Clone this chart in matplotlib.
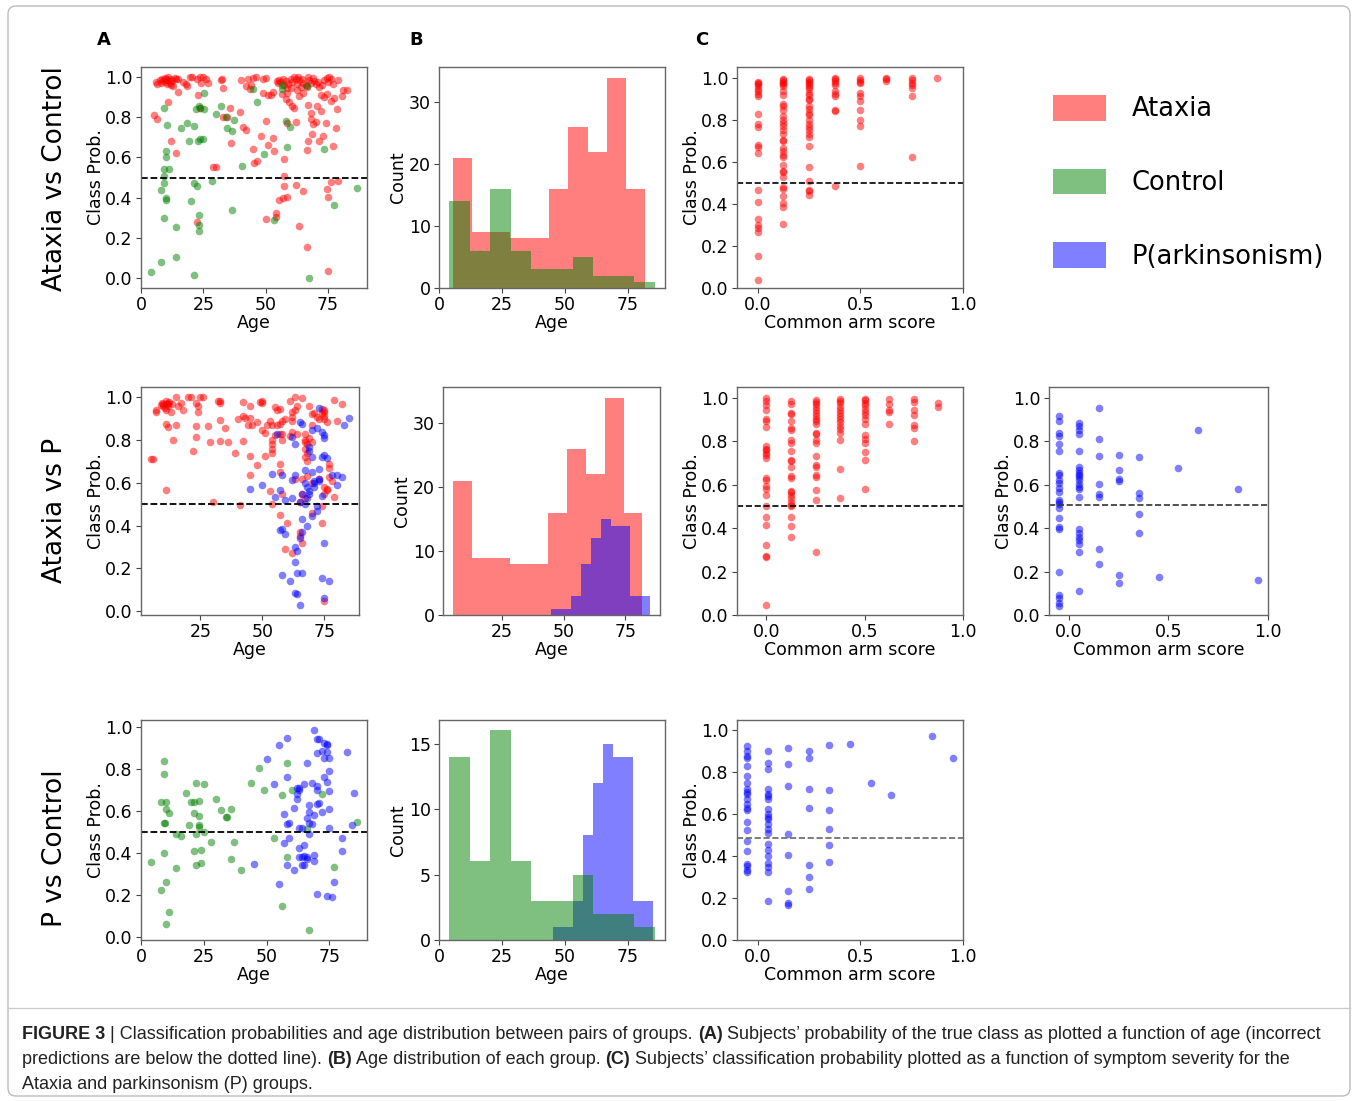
import matplotlib
matplotlib.use('Agg')
import matplotlib.pyplot as plt
import numpy as np
from matplotlib.patches import Patch, FancyBboxPatch
from matplotlib.ticker import MultipleLocator
from matplotlib import font_manager

W, H = 1358, 1101

#%% data: (age, class prob) per group and row
a1_ataxia = [(6,0.975),(6.5,0.965),(7.5,0.985),(8,0.97),(8.5,0.99),(9,0.98),(9.5,0.995),(10,0.975),(10,0.99),(10.5,0.965),
    (11,0.985),(11,1.0),(11.5,0.97),(12,0.99),(12,0.96),(12.5,0.98),(13,0.955),(13.5,0.995),(14,0.99),(15,0.99),(17,0.975),
    (18,0.965),(19.5,1.0),(20.5,1.0),(22.5,0.99),(23.5,1.0),(24,0.97),(25,1.0),(26,0.99),(27,0.97),(32,0.985),(32.5,0.99),
    (33,0.945),(40,0.985),(42,0.955),(43,0.99),(45,0.995),(44,0.96),(46,1.0),(49,0.99),(50,0.995),(49,0.92),(51,0.91),
    (53,0.925),(54.5,0.98),(55,0.97),(55.5,0.985),(56,0.975),(57,0.99),(57.5,0.96),(58,0.98),(58.5,0.945),(59,0.965),
    (60,0.99),(60.5,0.975),(61.5,1.0),(62,0.99),(62.5,0.965),(63,1.0),(63.5,0.985),(64.5,0.99),(65,0.97),(66,0.96),
    (67,1.0),(67.5,0.985),(68,0.97),(69,0.995),(69.5,0.98),(70,0.965),(71,0.975),(72.5,0.96),(73.5,0.985),(74.5,0.995),
    (75,0.975),(75.5,1.0),(76,0.99),(77,0.965),(79,0.985),(81,0.935),(66.5,0.95),(64,0.95),(62.5,0.935),(58.5,0.92),
    (56.5,0.915),(71.5,0.95),
    (5,0.81),(6.5,0.79),(11,0.875),(15,0.925),(12,0.68),(14,0.62),(18.5,0.955),(23,0.91),(23.5,0.845),(30,0.55),(29,0.55),
    (33,0.80),(34.5,0.80),(35.5,0.845),(39.5,0.825),(36,0.67),(41,0.75),(42,0.735),(22.5,0.28),(45,0.64),(45.5,0.57),
    (46.5,0.58),(48,0.705),(50,0.78),(51,0.66),(53,0.695),(53.5,0.63),(50,0.295),(54,0.325),(54,0.305),(55.5,0.39),
    (57,0.40),(57.5,0.59),(57.5,0.505),(57.5,0.46),(58.5,0.405),(58,0.89),(59.5,0.875),(58.5,0.77),(60.5,0.855),
    (61.5,0.845),(62,0.775),(62,0.465),(63.5,0.26),(65,0.435),(66.5,0.155),(66.5,0.635),(67,0.68),(67,0.86),(68,0.82),
    (68,0.79),(68.5,0.715),(69,0.765),(70,0.775),(70.5,0.855),(71.5,0.68),(72,0.83),(73,0.705),(74,0.77),(74.5,0.445),
    (75,0.405),(75,0.035),(76,0.48),(77,0.655),(78,0.745),(78.5,0.84),(79,0.485),(80.5,0.905),(82.5,0.935),(72,0.91),
    (73.5,0.9),(74.5,0.915),(76,0.88),(77.5,0.895),(63.5,0.905),(65,0.92),(60,0.945),(52,0.91),(43.5,0.94)]
a1_control = [(4.1,0.03),(8,0.08),(9.3,0.845),(10.5,0.76),(10.1,0.63),(10.1,0.60),(9.1,0.54),(11.2,0.54),(9.3,0.505),
    (9.3,0.475),(8,0.44),(10.1,0.40),(10.1,0.39),(9.3,0.30),(14.2,0.255),(14.2,0.105),(16.2,0.745),(18.4,0.77),(19.2,0.68),
    (20.2,0.385),(21.4,0.015),(21.4,0.755),(21.4,0.475),(22.4,0.46),(22.2,0.84),(23.1,0.855),(23.8,0.845),(22.7,0.68),
    (23.8,0.69),(24.7,0.69),(25.4,0.92),(25.1,0.84),(23.2,0.315),(23.2,0.265),(23.2,0.235),(28.4,0.485),(30.2,0.815),
    (32.2,0.855),(33.9,0.80),(34.4,0.745),(36.4,0.73),(36.3,0.34),(37.4,0.785),(40.5,0.555),(44.7,0.94),(46.5,0.875),
    (49.4,0.615),(53.3,0.29),(56.5,0.96),(56.5,0.94),(58.2,0.78),(58.5,0.65),(59.9,0.75),(66.5,0.955),(67.4,0.0),
    (73.2,0.64),(77.4,0.365),(86.5,0.45)]

a2_ataxia = [(5,0.71),(6,0.71),(7,0.94),(7,0.93),(9,0.965),(9.5,0.975),(10,0.97),(10,0.96),(10.5,0.95),(11,0.985),(11,0.94),
    (11.5,0.97),(12,0.975),(12,0.96),(12.5,0.98),(13,0.93),(13.5,0.97),(11,0.875),(12,0.86),(11,0.565),(14,0.80),(15,0.87),
    (15,1.0),(16,0.96),(17,0.975),(18,0.94),(20,1.0),(21,1.0),(22,0.75),(23,0.815),(23,0.865),(23,0.975),(24,0.93),
    (24,0.96),(25,1.0),(26,1.0),(28,0.865),(29,0.79),(30,0.51),(32,0.985),(33,0.985),(33,0.975),(33,0.895),(33,0.795),
    (35,0.855),(36,0.79),(39,0.74),(40,0.90),(41,0.495),(42,0.795),(42,0.915),(42,0.98),(43,0.905),(44,0.87),(45,0.905),
    (45,0.96),(45,0.725),(45,0.635),(46,0.87),(48,0.685),(48,0.885),(49,0.98),(50,0.975),(50,0.985),(50,0.845),(51,0.835),
    (51,0.725),(52,0.87),(53,0.56),(53,0.89),(54,0.87),(54,0.80),(54,0.78),(54,0.76),(54,0.74),(54,0.50),(55,0.955),
    (55,0.825),(56,0.94),(56,0.87),(57,0.945),(57,0.875),(57,0.69),(57,0.65),(57,0.45),(57,0.83),(58,0.89),(58,0.80),
    (58,0.55),(58,0.83),(59,0.29),(59,0.90),(60,0.41),(61,0.985),(61,0.82),(62,0.93),(62,0.91),(62,0.89),(62,0.84),
    (62,0.27),(63,1.0),(63,0.94),(63,0.62),(64,0.96),(64,0.83),(65,0.37),(65,0.35),(65,0.51),(66,0.995),(66,0.32),
    (66,0.55),(66,0.62),(67,0.83),(67,0.80),(67,0.79),(67,0.76),(67,0.72),(67,0.53),(68,0.78),(68,0.74),(68,0.70),
    (68,0.63),(69,0.96),(69,0.81),(70,0.92),(70,0.87),(70,0.79),(70,0.60),(70,0.46),(71,0.925),(72,0.91),(73,0.90),
    (73,0.62),(74,0.925),(74,0.945),(74,0.49),(74,0.41),(75,0.94),(75,0.93),(75,0.915),(75,0.90),(75,0.58),(75,0.045),
    (76,0.885),(76,0.565),(77,0.69),(77,0.67),(77,0.625),(78,0.61),(79,0.535),(79,0.99),(80,0.89),(82,0.97),(75,0.55),
    (76,0.57)]
a2_park = [(45,0.57),(50,0.59),(54,0.64),(55,0.535),(56,0.83),(57,0.565),(57,0.38),(58,0.635),(58,0.17),(58,0.385),
    (59,0.36),(59,0.52),(61,0.14),(62,0.615),(62,0.53),(62,0.815),(63,0.78),(63,0.30),(63,0.23),(63,0.085),(63,0.635),
    (64,0.08),(64,0.18),(64,0.28),(65,0.885),(65,0.51),(65,0.34),(65,0.03),(66,0.875),(66,0.18),(66,0.43),(66,0.37),
    (66,0.55),(67,0.66),(67,0.60),(67,0.50),(68,0.40),(68,0.53),(68,0.58),(69,0.75),(69,0.56),(69,0.55),(70,0.72),
    (70,0.65),(70,0.445),(70,0.845),(71,0.61),(71,0.58),(71,0.60),(72,0.855),(72,0.47),(72,0.49),(73,0.665),(73,0.61),
    (73,0.62),(73,0.95),(74,0.84),(74,0.72),(74,0.54),(74,0.155),(75,0.825),(75,0.81),(75,0.73),(75,0.32),(75,0.06),
    (76,0.715),(77,0.14),(78,0.635),(80,0.59),(80,0.635),(82,0.625),(83,0.87),(85,0.905),(69,0.77)]

a3_control = [(4,0.36),(8,0.225),(8,0.645),(9,0.84),(9,0.775),(9,0.545),(9.3,0.545),(9,0.40),(10,0.645),(10,0.61),
    (10,0.265),(10,0.065),(11,0.59),(11,0.12),(14,0.49),(14,0.33),(16,0.48),(18,0.685),(19,0.535),(20,0.645),(21,0.645),
    (21,0.59),(21,0.41),(22,0.735),(22,0.49),(22,0.345),(23,0.65),(23,0.575),(23,0.535),(23,0.525),(24,0.415),(24,0.355),
    (25,0.73),(25,0.50),(28,0.455),(30,0.655),(32,0.605),(34,0.57),(34.3,0.57),(36,0.61),(36,0.37),(37,0.455),(40,0.32),
    (44,0.735),(47,0.805),(49,0.70),(53,0.47),(56,0.675),(56,0.15),(58,0.83),(58,0.38),(60,0.70),(66,0.515),(67,0.035),
    (72,0.68),(77,0.335),(86,0.55)]
a3_park = [(45,0.35),(50,0.845),(53,0.73),(55,0.915),(55,0.255),(57,0.585),(57,0.45),(58,0.945),(58,0.76),(58,0.54),
    (58,0.345),(59,0.545),(59,0.47),(61,0.615),(61,0.32),(62,0.71),(62,0.68),(62,0.655),(63,0.70),(63,0.52),(63,0.425),
    (63,0.38),(64,0.52),(64,0.38),(64,0.345),(65,0.73),(65,0.44),(65,0.385),(65,0.345),(66,0.83),(66,0.565),(66,0.38),
    (66,0.37),(67,0.63),(67,0.595),(67,0.49),(67,0.545),(68,0.735),(68,0.54),(69,0.985),(69,0.58),(69,0.39),(69,0.365),
    (70,0.875),(70,0.94),(70,0.72),(70,0.70),(70,0.635),(70,0.205),(71,0.94),(71,0.64),(72,0.885),(72,0.595),(73,0.925),
    (73,0.85),(73,0.76),(74,0.915),(74,0.92),(74,0.88),(74,0.74),(74,0.195),(75,0.85),(75,0.79),(75,0.695),(75,0.61),
    (75,0.52),(76,0.19),(77,0.265),(80,0.47),(80,0.41),(82,0.88),(84,0.535),(85,0.685),(63,0.71)]

#%% data: age histograms (bin range and counts)
ataxia_bin_range = (5.3, 81.9)
ataxia_counts = [21, 9, 9, 8, 8, 16, 26, 22, 34, 16]
control_bin_range = (4.0, 85.6)
control_counts = [14, 6, 16, 6, 3, 3, 5, 2, 2, 1]
park_bin_range = (45.0, 85.0)
park_counts = [1, 1, 3, 8, 12, 15, 14, 14, 3, 3]

#%% data: common arm score vs class prob
ataxia_scores = [0, 0.125, 0.25, 0.375, 0.5, 0.625, 0.75, 0.875]
c1_probs = [
    [0.98,0.973,0.968,0.96,0.944,0.936,0.92,0.912,0.825,0.78,0.764,0.68,0.67,0.642,0.467,0.41,0.326,0.30,0.283,0.268,0.153,0.04],
    [0.995,0.99,0.98,0.973,0.968,0.96,0.936,0.915,0.876,0.865,0.844,0.817,0.796,0.785,0.77,0.753,0.734,0.705,0.697,0.666,
     0.65,0.634,0.623,0.586,0.554,0.55,0.527,0.482,0.47,0.438,0.403,0.387,0.304],
    [0.995,0.987,0.98,0.973,0.963,0.955,0.947,0.928,0.915,0.90,0.893,0.865,0.852,0.833,0.82,0.80,0.777,0.766,0.753,0.734,
     0.718,0.674,0.573,0.506,0.467,0.459,0.443],
    [1.0,0.992,0.984,0.976,0.963,0.936,0.924,0.912,0.846,0.84,0.486],
    [1.0,0.989,0.979,0.973,0.928,0.912,0.889,0.846,0.796,0.77,0.58],
    [1.0,0.992,0.984],
    [1.0,0.989,0.976,0.963,0.952,0.912,0.623],
    [1.0]]
c2_probs = [
    [0.998,0.986,0.966,0.944,0.904,0.894,0.866,0.778,0.765,0.758,0.747,0.735,0.724,0.631,0.620,0.596,0.582,0.554,0.503,
     0.451,0.415,0.323,0.273,0.269,0.045],
    [0.986,0.971,0.932,0.924,0.894,0.863,0.852,0.806,0.793,0.755,0.716,0.708,0.682,0.642,0.631,0.569,0.565,0.554,0.539,
     0.519,0.508,0.50,0.451,0.41,0.361],
    [0.991,0.981,0.971,0.96,0.944,0.929,0.917,0.904,0.894,0.878,0.84,0.832,0.804,0.793,0.731,0.693,0.682,0.647,0.636,
     0.577,0.531,0.292],
    [0.997,0.986,0.975,0.96,0.944,0.932,0.917,0.904,0.889,0.870,0.855,0.840,0.806,0.673,0.539],
    [0.997,0.989,0.978,0.966,0.947,0.935,0.92,0.904,0.878,0.827,0.812,0.79,0.75,0.713,0.582],
    [0.997,0.971,0.944,0.937,0.881],
    [0.997,0.981,0.944,0.92,0.873,0.863,0.801],
    [0.978,0.96]]
park_scores = [-0.05, 0.05, 0.15, 0.25, 0.35, 0.45, 0.55, 0.65, 0.85, 0.95]
d2_probs = [
    [0.915,0.892,0.838,0.826,0.787,0.757,0.653,0.646,0.622,0.607,0.584,0.565,0.53,0.522,0.512,0.495,0.448,0.407,0.394,
     0.199,0.091,0.076,0.055,0.04],
    [0.884,0.869,0.854,0.834,0.753,0.681,0.666,0.653,0.643,0.635,0.622,0.604,0.589,0.579,0.542,0.396,0.379,0.361,0.345,
     0.325,0.291,0.109],
    [0.954,0.812,0.73,0.604,0.558,0.545,0.304,0.237],
    [0.738,0.666,0.627,0.619,0.186,0.149],
    [0.727,0.561,0.538,0.465,0.376],
    [0.176], [0.676], [0.851], [0.581], [0.163]]
c3_probs = [
    [0.928,0.904,0.877,0.867,0.832,0.781,0.749,0.72,0.707,0.696,0.675,0.648,0.632,0.621,0.563,0.525,0.472,0.424,0.365,
     0.352,0.336,0.323],
    [0.904,0.845,0.816,0.723,0.696,0.685,0.672,0.624,0.60,0.589,0.576,0.552,0.528,0.509,0.456,0.429,0.40,0.368,0.349,
     0.323,0.184],
    [0.917,0.84,0.733,0.507,0.408,0.232,0.176,0.166],
    [0.901,0.869,0.72,0.629,0.36,0.299,0.245],
    [0.931,0.715,0.619,0.531,0.453,0.371],
    [0.936], [0.749], [0.693], [0.973], [0.869]]

row_titles = ['Ataxia vs Control', 'Ataxia vs P', 'P vs Control']
legend_labels = ['Ataxia', 'Control', 'P(arkinsonism)']

#%% figure
plt.rcParams['font.family'] = 'DejaVu Sans'
FS = 12.5
plt.rcParams['font.size'] = FS
fig = plt.figure(figsize=(W / 100, H / 100), dpi=100)

def box(l, t, r, b):
    return [l / W, 1 - b / H, (r - l) / W, (b - t) / H]

def style(ax):
    for s in ax.spines.values():
        s.set_color('#666666')
        s.set_linewidth(1.0)
    ax.tick_params(labelsize=FS, color='#444444', pad=2.5)

def prob_scatter(ax, groups):
    for pts, col in groups:
        arr = np.array(pts)
        ax.scatter(arr[:, 0], arr[:, 1], s=30, color=col, alpha=0.5, linewidths=0)
    ax.axhline(0.5, color='k', ls='--', lw=1.3)
    ax.xaxis.set_major_locator(MultipleLocator(25))
    ax.yaxis.set_major_locator(MultipleLocator(0.2))
    ax.yaxis.set_major_formatter('{x:.1f}')
    ax.set_xlabel('Age', labelpad=0)
    ax.set_ylabel('Class Prob.', labelpad=0)
    style(ax)

def age_hist(ax, groups, step):
    for (lo, hi), counts, col in groups:
        edges = np.linspace(lo, hi, len(counts) + 1)
        centers = (edges[:-1] + edges[1:]) / 2
        ax.hist(centers, bins=edges, weights=counts, color=col, alpha=0.5)
    ax.xaxis.set_major_locator(MultipleLocator(25))
    ax.yaxis.set_major_locator(MultipleLocator(step))
    ax.set_xlabel('Age', labelpad=0)
    ax.set_ylabel('Count', labelpad=1)
    style(ax)

def score_scatter(ax, scores, probs, col, thresh=0.5, lcol='k', xmin=-0.1):
    xs = np.concatenate([[s] * len(p) for s, p in zip(scores, probs)])
    ys = np.concatenate(probs)
    ax.scatter(xs, ys, s=30, color=col, alpha=0.5, linewidths=0)
    ax.axhline(thresh, color=lcol, ls='--', lw=1.2)
    ax.set_xlim(xmin, 1.0)
    ax.set_ylim(0, 1.05)
    ax.xaxis.set_major_locator(MultipleLocator(0.5))
    ax.yaxis.set_major_locator(MultipleLocator(0.2))
    ax.xaxis.set_major_formatter('{x:.1f}')
    ax.yaxis.set_major_formatter('{x:.1f}')
    ax.set_xlabel('Common arm score', labelpad=0)
    ax.set_ylabel('Class Prob.', labelpad=0)
    style(ax)

# row 1: Ataxia vs Control
ax = fig.add_axes(box(141, 67, 367, 288))
prob_scatter(ax, [(a1_ataxia, 'red'), (a1_control, 'green')])
ax = fig.add_axes(box(439, 67, 665, 288))
age_hist(ax, [(ataxia_bin_range, ataxia_counts, 'red'), (control_bin_range, control_counts, 'green')], 10)
ax = fig.add_axes(box(737, 67, 963, 288))
score_scatter(ax, ataxia_scores, c1_probs, 'red')

# row 2: Ataxia vs P
ax = fig.add_axes(box(141, 387, 359, 615))
prob_scatter(ax, [(a2_ataxia, 'red'), (a2_park, 'blue')])
ax = fig.add_axes(box(443, 387, 660, 615))
age_hist(ax, [(ataxia_bin_range, ataxia_counts, 'red'), (park_bin_range, park_counts, 'blue')], 10)
ax = fig.add_axes(box(737, 387, 963, 615))
score_scatter(ax, ataxia_scores, c2_probs, 'red', xmin=-0.15)
ax = fig.add_axes(box(1049, 387, 1268, 615))
score_scatter(ax, park_scores, d2_probs, 'blue', thresh=0.507, lcol='#333333')

# row 3: P vs Control
ax = fig.add_axes(box(141, 720, 367, 940))
prob_scatter(ax, [(a3_control, 'green'), (a3_park, 'blue')])
ax = fig.add_axes(box(439, 720, 665, 940))
age_hist(ax, [(park_bin_range, park_counts, 'blue'), (control_bin_range, control_counts, 'green')], 5)
ax = fig.add_axes(box(737, 720, 963, 940))
score_scatter(ax, park_scores, c3_probs, 'blue', thresh=0.485, lcol='#666666')

# legend
handles = [Patch(facecolor=c, edgecolor='none', alpha=0.5) for c in ['red', 'green', 'blue']]
fig.legend(handles, legend_labels, loc='upper left', bbox_to_anchor=(1053 / W, 1 - 95 / H),
           frameon=False, fontsize=18.5, handlelength=2.05, handleheight=1.15,
           handletextpad=1.0, labelspacing=1.8, borderpad=0, borderaxespad=0)

# overlay for frame, titles and caption
ov = fig.add_axes([0, 0, 1, 1], zorder=-1)
ov.set_xlim(0, W)
ov.set_ylim(H, 0)
ov.axis('off')
ov.add_patch(FancyBboxPatch((8, 6), 1342, 1090, boxstyle='round,pad=0,rounding_size=8',
                            facecolor='none', edgecolor='#bbbbbb', lw=1.0))
ov.plot([8, 1350], [1008, 1008], color='#cccccc', lw=1.0)

for title, yc in zip(row_titles, [179, 510, 848]):
    ov.text(55, yc, title, rotation=90, ha='center', va='center', fontsize=19)
for letter, xc in zip('ABC', [104, 416, 702]):
    ov.text(xc, 40, letter, ha='center', va='center', fontsize=13, fontweight='bold')

names = {f.name for f in font_manager.fontManager.ttflist}
cap_font = 'Liberation Sans Narrow' if 'Liberation Sans Narrow' in names else 'Liberation Sans'
caption = [
    [('FIGURE 3', 'bold'), (' | Classification probabilities and age distribution between pairs of groups. ', 'normal'),
     ('(A)', 'bold'), (' Subjects\u2019 probability of the true class as plotted a function of age (incorrect', 'normal')],
    [('predictions are below the dotted line). ', 'normal'), ('(B)', 'bold'),
     (' Age distribution of each group. ', 'normal'), ('(C)', 'bold'),
     (' Subjects\u2019 classification probability plotted as a function of symptom severity for the', 'normal')],
    [('Ataxia and parkinsonism (P) groups.', 'normal')]]
cap_texts = []
line_ends = []
for line, yb in zip(caption, [1043, 1068, 1093]):
    prev = None
    for txt, wt in line:
        if prev is None:
            t = ov.text(22, yb, txt, ha='left', va='bottom', fontsize=11.5, fontweight=wt,
                        family=cap_font, color='#222222')
        else:
            t = ov.annotate(txt, xy=(1, 0), xycoords=prev, ha='left', va='bottom', fontsize=11.5,
                            fontweight=wt, family=cap_font, color='#222222')
        cap_texts.append(t)
        prev = t
    line_ends.append(prev)

fig.canvas.draw()
r = fig.canvas.get_renderer()
first = cap_texts[0].get_window_extent(r)
last = line_ends[0].get_window_extent(r)
scale = (1327 - 22) / (last.x1 - first.x0)
for t in cap_texts:
    t.set_fontsize(11.5 * scale)

fig.savefig('out.png', dpi=100)
